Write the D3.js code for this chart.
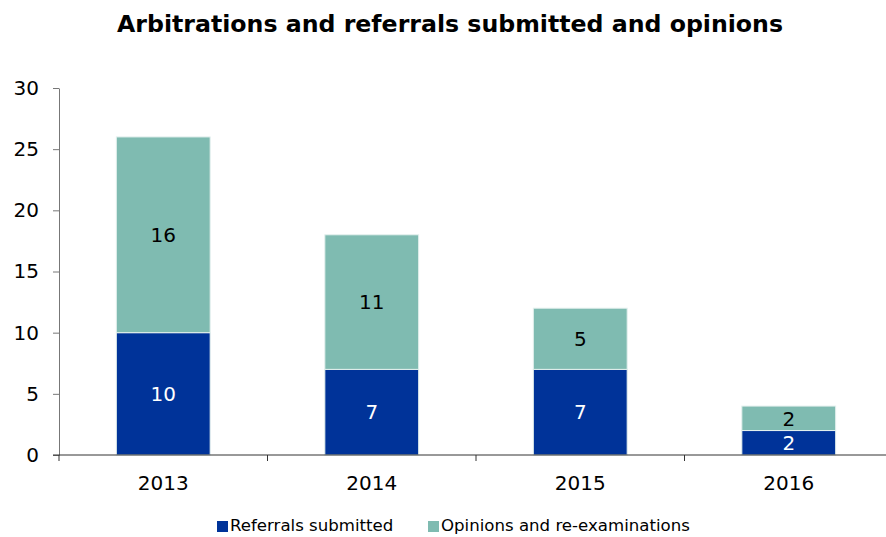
<!DOCTYPE html>
<html>
<head>
<meta charset="utf-8">
<script src="https://cdn.jsdelivr.net/npm/d3@7"></script>
<style>
  body { margin: 0; background: #fff; }
  text { font-family: "DejaVu Sans", Verdana, sans-serif; }
</style>
</head>
<body>
<script>
// chart data
const years = ["2013", "2014", "2015", "2016"];
const referrals = [10, 7, 7, 2];
const opinions = [16, 11, 5, 2];
const seriesNames = ["Referrals submitted", "Opinions and re-examinations"];
const yTicks = [0, 5, 10, 15, 20, 25, 30];

const colors = ["#003399", "#7fbbb1"];

const W = 886, H = 537;
const margin = {top: 88, right: -7, bottom: 82, left: 59};

const svg = d3.select("body").append("svg")
    .attr("width", W)
    .attr("height", H);

const x = d3.scaleBand()
    .domain(years)
    .range([margin.left, W - margin.right])
    .paddingInner(0.55)
    .paddingOuter(0.275);

const y = d3.scaleLinear()
    .domain([0, 30])
    .range([H - margin.bottom, margin.top]);

const rows = years.map((yr, i) => ({year: yr, ref: referrals[i], op: opinions[i]}));
const stack = d3.stack().keys(["ref", "op"])(rows);

// title
svg.append("text")
    .attr("x", 450)
    .attr("y", 32)
    .attr("text-anchor", "middle")
    .style("font-size", "23px")
    .style("font-weight", "bold")
    .attr("textLength", 666)
    .attr("lengthAdjust", "spacingAndGlyphs")
    .text("Arbitrations and referrals submitted and opinions");

// bars
const layer = svg.selectAll("g.layer")
  .data(stack)
  .join("g")
    .attr("class", "layer")
    .attr("fill", (d, i) => colors[i]);

layer.selectAll("rect")
  .data(d => d)
  .join("rect")
    .attr("x", d => x(d.data.year))
    .attr("y", d => y(d[1]))
    .attr("width", x.bandwidth())
    .attr("height", d => y(d[0]) - y(d[1]))
    .attr("stroke", "#e4f0ee")
    .attr("stroke-width", 1);

// value labels
layer.selectAll("text")
  .data(d => d)
  .join("text")
    .attr("x", d => x(d.data.year) + x.bandwidth() / 2)
    .attr("y", d => (y(d[0]) + y(d[1])) / 2)
    .attr("dy", "0.36em")
    .attr("text-anchor", "middle")
    .style("font-size", "20px")
    .attr("fill", function(d) {
      return d3.select(this.parentNode).datum().key === "ref" ? "#fff" : "#000";
    })
    .text(d => d[1] - d[0]);

// y axis
const yAxis = svg.append("g")
    .attr("transform", `translate(${margin.left},0)`)
    .call(d3.axisLeft(y).tickValues(yTicks).tickSize(6).tickSizeOuter(0).tickPadding(14));
yAxis.select(".domain").attr("stroke", "#777");
yAxis.selectAll(".tick line").attr("stroke", "#777");
yAxis.selectAll("text").style("font-size", "20px").attr("fill", "#000");

// x axis
const xAxis = svg.append("g")
    .attr("transform", `translate(0,${y(0)})`);
xAxis.append("line")
    .attr("x1", margin.left - 6).attr("x2", W)
    .attr("y1", 0).attr("y2", 0)
    .attr("stroke", "#333");
const bounds = years.map(yr => x(yr) - x.step() * x.paddingInner() / 2);
xAxis.selectAll("line.tk")
  .data(bounds)
  .join("line")
    .attr("class", "tk")
    .attr("x1", d => d).attr("x2", d => d)
    .attr("y1", 0).attr("y2", 6)
    .attr("stroke", "#333");
xAxis.selectAll("text")
  .data(years)
  .join("text")
    .attr("x", d => x(d) + x.bandwidth() / 2)
    .attr("y", 35)
    .attr("text-anchor", "middle")
    .style("font-size", "20px")
    .text(d => d);

// legend
const legend = svg.append("g").attr("transform", `translate(217,531)`);
const lx = [0, 211];
seriesNames.forEach((name, i) => {
  const g = legend.append("g").attr("transform", `translate(${lx[i]},0)`);
  g.append("rect")
      .attr("x", 0).attr("y", -10)
      .attr("width", 11).attr("height", 11)
      .attr("fill", colors[i]);
  g.append("text")
      .attr("x", 13).attr("y", 0)
      .style("font-size", "16.6px")
      .text(name);
});
</script>
</body>
</html>
